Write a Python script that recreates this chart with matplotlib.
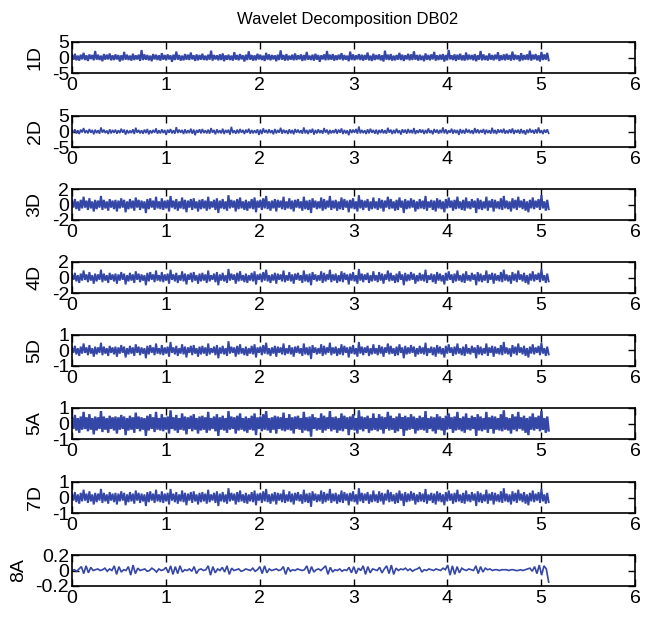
import numpy as np
import matplotlib
matplotlib.use("Agg")
import matplotlib.pyplot as plt

plt.rcParams['font.family'] = ['Liberation Sans', 'DejaVu Sans']
plt.rcParams['axes.unicode_minus'] = False

title = "Wavelet Decomposition DB02"
labels = ["1D", "2D", "3D", "4D", "5D", "5A", "7D", "8A"]
ylims = [(-5, 5), (-5, 5), (-2, 2), (-2, 2), (-1, 1), (-1, 1), (-1, 1), (-0.2, 0.2)]
yticks = [[-5, 0, 5], [-5, 0, 5], [-2, 0, 2], [-2, 0, 2], [-1, 0, 1], [-1, 0, 1], [-1, 0, 1], [-0.2, 0, 0.2]]
xticks = [0, 1, 2, 3, 4, 5, 6]
t_end = 5.08

# 1D, values in tenths
d1 = [8,-7,12,-9,6,-10,9,-6,15,-8,7,-11,10,-5,8,-9,21,-7,9,-8,6,-12,11,-7,9,-6,13,-9,7,-8,
      10,-6,8,-13,7,-9,18,-7,9,-8,6,-10,12,-8,7,-6,9,-11,24,-8,10,-7,8,-9,6,-12,11,-6,9,-8,
      7,-10,14,-7,8,-9,10,-6,7,-14,9,-8,19,-7,8,-10,6,-9,11,-7,9,-8,16,-6,7,-11,10,-9,8,-7,
      12,-8,6,-9,9,-7,22,-10,8,-6,7,-9,10,-8,13,-12,7,-7,9,-8,6,-10,17,-7,8,-9,11,-6,7,-13,
      9,-8,20,-7,8,-10,7,-9,12,-6,9,-8,6,-11,15,-7,10,-9,8,-6,7,-12,9,-8,23,-7,8,-10,11,-9,
      6,-7,9,-9,13,-8,7,-6,10,-11,8,-9,18,-7,6,-8,9,-10,12,-7,8,-14,7,-6,10,-9,21,-8,9,-7,
      11,-10,7,-8,9,-6,14,-9,8,-7,6,-12,19,-8,10,-9,7,-6,11,-8,9,-10,8,-7,16,-9,6,-11,12,-8,
      8,-6,10,-9,7,-13,22,-7,9,-8,11,-10,6,-9,8,-7,15,-8,9,-11,7,-6,12,-9,10,-8,20,-7,8,-10,
      9,-8,6,-12,13,-7,8,-9,10,-6,18,-10,7,-8,9,-7,11,-13,8,-9,24,-6,7,-8,10,-11,9,-7,12,-9,
      7,-10,16,-8,9,-6,8,-9,11,-12,7,-7,21,-9,10,-8,6,-10,13,-7,8,-9,9,-6,17,-11,7,-8,10,-9,
      12,-7,8,-10,19,-8,9,-6,7,-12,14,-9,8,-7,10,-8,22,-10,9,-6,11,-9,7,-13,18,-8,10,-7,15,-9]

# 2D, tenths
d2 = [5,-4,7,-6,4,-8,6,-3,11,-5,4,-6,8,-4,5,-9,6,-5,4,-7,13,-4,6,-5,3,-8,7,-6,5,-4,
      6,-7,4,-5,9,-4,6,-10,5,-6,3,-5,7,-8,12,-4,5,-6,4,-7,6,-5,8,-9,4,-6,5,-4,10,-7,
      4,-6,7,-5,5,-11,6,-4,8,-6,4,-7,14,-5,6,-4,5,-8,7,-6,4,-5,9,-7,6,-12,5,-4,7,-6,
      8,-5,4,-6,6,-7,11,-4,5,-9,7,-5,4,-6,9,-8,5,-4,6,-10,15,-5,4,-7,6,-6,8,-4,5,-8,
      6,-4,9,-7,5,-6,4,-5,7,-11,6,-8,10,-4,5,-6,7,-5,4,-9,8,-6,5,-4,12,-7,6,-5,4,-8,
      7,-6,5,-9,8,-4,6,-5,4,-7,13,-6,5,-8,6,-4,9,-10,5,-6,7,-5,4,-7,11,-4,6,-9,5,-6,
      4,-5,8,-7,6,-4,10,-8,5,-6,4,-12,7,-5,6,-4,8,-7,16,-6,5,-5,4,-8,7,-6,9,-4,5,-7,
      6,-9,5,-5,7,-6,4,-7,12,-4,6,-8,5,-6,9,-5,4,-10,7,-4,6,-7,8,-5,5,-6,11,-8,4,-5,
      7,-4,6,-8,5,-6,10,-5,4,-9,8,-4,6,-7,5,-5,13,-6,7,-8,4,-4,9,-7,6,-5,5,-11,8,-6,
      5,-7,9,-4,6,-6,4,-8,11,-5,7,-6,5,-4,8,-9,6,-5,4,-7,12,-6,5,-8,7,-4,6,-5,9,-7,
      4,-6,7,-5,10,-8,5,-4,6,-7,8,-6,4,-10,6,-5,9,-4,5,-7,7,-6,13,-5,4,-8,6,-4,7,-6]

# 3D, tenths
d3 = [5,-4,7,-6,4,-8,6,-5,10,-4,5,-7,8,-5,4,-9,6,-6,5,-4,11,-7,6,-5,4,-8,7,-4,5,-6,
      6,-9,5,-5,8,-4,6,-10,4,-6,7,-5,5,-8,9,-4,6,-7,5,-5,4,-11,7,-6,8,-4,5,-7,10,-5,
      4,-6,8,-7,5,-5,6,-9,11,-4,5,-6,7,-8,4,-5,9,-6,6,-10,5,-4,7,-7,8,-5,4,-9,6,-6,
      7,-5,5,-8,10,-6,4,-4,6,-7,8,-11,5,-5,7,-6,4,-8,12,-5,6,-4,5,-9,7,-6,9,-5,4,-7,
      6,-8,4,-5,7,-6,9,-10,5,-4,6,-7,8,-5,11,-6,4,-8,5,-5,7,-9,6,-4,5,-6,10,-7,4,-5,
      8,-6,5,-9,6,-4,7,-5,4,-8,10,-6,5,-7,6,-11,8,-4,5,-6,4,-5,9,-8,7,-6,5,-4,11,-7,
      5,-5,6,-8,4,-6,9,-7,7,-4,5,-10,6,-5,8,-6,4,-9,12,-5,6,-7,5,-4,7,-8,4,-6,9,-5,
      4,-7,8,-5,6,-9,5,-4,10,-6,7,-5,4,-8,6,-7,9,-4,5,-11,7,-6,5,-5,8,-4,6,-9,4,-6,
      7,-5,5,-6,11,-8,4,-4,6,-7,5,-9,8,-5,6,-6,4,-10,7,-5,9,-4,5,-8,6,-6,10,-5,4,-7,
      6,-8,9,-5,4,-6,7,-4,5,-11,8,-6,6,-7,4,-5,10,-8,5,-4,7,-9,6,-5,4,-6,8,-7,11,-5,
      5,-6,4,-9,8,-5,6,-7,10,-4,5,-6,7,-8,4,-10,6,-5,9,-6,5,-4,7,-7,12,-5,4,-8,6,-6]

# 4D, tenths
d4 = [4,-3,6,-5,3,-7,5,-4,9,-3,4,-6,7,-4,3,-8,5,-5,4,-3,10,-6,5,-4,3,-7,6,-3,4,-5,
      5,-8,4,-4,7,-3,5,-9,3,-5,6,-4,4,-7,8,-3,5,-6,4,-4,3,-10,6,-5,7,-3,4,-6,9,-4,
      3,-5,7,-6,4,-4,5,-8,10,-3,4,-5,6,-7,3,-4,8,-5,5,-9,4,-3,6,-6,7,-4,3,-8,5,-5,
      6,-4,4,-7,9,-5,3,-3,5,-6,7,-10,4,-4,6,-5,3,-7,11,-4,5,-3,4,-8,6,-5,8,-4,3,-6,
      5,-7,3,-4,6,-5,8,-9,4,-3,5,-6,7,-4,10,-5,3,-7,4,-4,6,-8,5,-3,4,-5,9,-6,3,-4,
      7,-5,4,-8,5,-3,6,-4,3,-7,9,-5,4,-6,5,-10,7,-3,4,-5,3,-4,8,-7,6,-5,4,-3,10,-6,
      4,-4,5,-7,3,-5,8,-6,6,-3,4,-9,5,-4,7,-5,3,-8,11,-4,5,-6,4,-3,6,-7,3,-5,8,-4,
      3,-6,7,-4,5,-8,4,-3,9,-5,6,-4,3,-7,5,-6,8,-3,4,-10,6,-5,4,-4,7,-3,5,-8,3,-5,
      6,-4,4,-5,10,-7,3,-3,5,-6,4,-8,7,-4,5,-5,3,-9,6,-4,8,-3,4,-7,5,-5,9,-4,3,-6,
      5,-7,8,-4,3,-5,6,-3,4,-10,7,-5,5,-6,3,-4,9,-7,4,-3,6,-8,5,-4,3,-5,7,-6,10,-4,
      4,-5,3,-8,7,-4,5,-6,9,-3,4,-5,6,-7,3,-9,5,-4,8,-5,4,-3,6,-6,11,-4,3,-7,5,-5]

# 5D, hundredths
d5 = [20,-15,30,-25,15,-35,25,-20,45,-15,20,-30,35,-20,15,-40,25,-25,20,-15,50,-30,25,-20,15,-35,30,-15,20,-25,
      25,-40,20,-20,35,-15,25,-45,15,-25,30,-20,20,-35,40,-15,25,-30,20,-20,15,-50,30,-25,35,-15,20,-30,45,-20,
      15,-25,35,-30,20,-20,25,-40,55,-15,20,-25,30,-35,15,-20,40,-25,25,-45,20,-15,30,-30,35,-20,15,-40,25,-25,
      30,-20,20,-35,45,-25,15,-15,25,-30,35,-50,20,-20,30,-25,15,-35,60,-20,25,-15,20,-40,30,-25,40,-20,15,-30,
      25,-35,15,-20,30,-25,40,-45,20,-15,25,-30,35,-20,50,-25,15,-35,20,-20,30,-40,25,-15,20,-25,45,-30,15,-20,
      35,-25,20,-40,25,-15,30,-20,15,-35,45,-25,20,-30,25,-55,35,-15,20,-25,15,-20,40,-35,30,-25,20,-15,50,-30,
      20,-20,25,-35,15,-25,40,-30,30,-15,20,-45,25,-20,35,-25,15,-40,55,-20,25,-30,20,-15,30,-35,15,-25,40,-20,
      15,-30,35,-20,25,-40,20,-15,45,-25,30,-20,15,-35,25,-30,40,-15,20,-50,30,-25,20,-20,35,-15,25,-40,15,-25,
      30,-20,20,-25,50,-35,15,-15,25,-30,20,-40,35,-20,25,-25,15,-45,30,-20,40,-15,20,-35,25,-25,45,-20,15,-30,
      25,-35,40,-20,15,-25,30,-15,20,-50,35,-25,25,-30,15,-20,45,-35,20,-15,30,-40,25,-20,15,-25,35,-30,55,-20,
      20,-25,15,-40,35,-20,25,-30,45,-15,20,-25,30,-35,15,-45,25,-20,40,-25,20,-15,30,-30,50,-20,15,-35,25,-25]

# 5A, hundredths
a5 = [40,-35,55,-45,35,-60,45,-40,75,-35,40,-50,60,-40,35,-70,45,-45,40,-35,80,-55,45,-40,35,-60,50,-35,40,-45,
      45,-65,40,-40,55,-35,45,-75,35,-45,50,-40,40,-60,70,-35,45,-50,40,-40,35,-80,50,-45,60,-35,40,-55,75,-40,
      35,-45,60,-50,40,-40,45,-65,85,-35,40,-45,55,-60,35,-40,65,-45,45,-70,40,-35,50,-50,60,-40,35,-65,45,-45,
      50,-40,40,-60,75,-45,35,-35,45,-50,60,-80,40,-40,50,-45,35,-60,80,-40,45,-35,40,-65,50,-45,65,-40,35,-50,
      45,-60,35,-40,50,-45,65,-75,40,-35,45,-50,60,-40,80,-45,35,-60,40,-40,50,-65,45,-35,40,-45,70,-50,35,-40,
      60,-45,40,-65,45,-35,50,-40,35,-60,75,-45,40,-50,45,-85,60,-35,40,-45,35,-40,65,-60,50,-45,40,-35,80,-50,
      40,-40,45,-60,35,-45,65,-50,50,-35,40,-75,45,-40,60,-45,35,-65,85,-40,45,-50,40,-35,50,-60,35,-45,65,-40,
      35,-50,60,-40,45,-65,40,-35,75,-45,50,-40,35,-60,45,-50,65,-35,40,-80,50,-45,40,-40,60,-35,45,-65,35,-45,
      50,-40,40,-45,80,-60,35,-35,45,-50,40,-65,60,-40,45,-45,35,-75,50,-40,65,-35,40,-60,45,-45,75,-40,35,-50,
      45,-60,65,-40,35,-45,50,-35,40,-80,60,-45,45,-50,35,-40,75,-60,40,-35,50,-65,45,-40,35,-45,60,-50,85,-40,
      40,-45,35,-65,60,-40,45,-50,75,-35,40,-45,50,-60,35,-75,45,-40,65,-45,40,-35,50,-50,80,-40,35,-60,45,-45]

# 7D, hundredths
d7 = [25,-20,35,-30,20,-40,30,-25,50,-20,25,-35,40,-25,20,-45,30,-30,25,-20,55,-35,30,-25,20,-40,35,-20,25,-30,
      30,-45,25,-25,40,-20,30,-50,20,-30,35,-25,25,-40,45,-20,30,-35,25,-25,20,-55,35,-30,40,-20,25,-35,50,-25,
      20,-30,40,-35,25,-25,30,-45,55,-20,25,-30,35,-40,20,-25,45,-30,30,-50,25,-20,35,-35,40,-25,20,-45,30,-30,
      35,-25,25,-40,50,-30,20,-20,30,-35,40,-55,25,-25,35,-30,20,-40,60,-25,30,-20,25,-45,35,-30,45,-25,20,-35,
      30,-40,20,-25,35,-30,45,-50,25,-20,30,-35,40,-25,55,-30,20,-40,25,-25,35,-45,30,-20,25,-30,50,-35,20,-25,
      40,-30,25,-45,30,-20,35,-25,20,-40,50,-30,25,-35,30,-60,40,-20,25,-30,20,-25,45,-40,35,-30,25,-20,55,-35,
      25,-25,30,-40,20,-30,45,-35,35,-20,25,-50,30,-25,40,-30,20,-45,60,-25,30,-35,25,-20,35,-40,20,-30,45,-25,
      20,-35,40,-25,30,-45,25,-20,50,-30,35,-25,20,-40,30,-35,45,-20,25,-55,35,-30,25,-25,40,-20,30,-45,20,-30,
      35,-25,25,-30,55,-40,20,-20,30,-35,25,-45,40,-25,30,-30,20,-50,35,-25,45,-20,25,-40,30,-30,50,-25,20,-35,
      30,-40,45,-25,20,-30,35,-20,25,-55,40,-30,30,-35,20,-25,50,-40,25,-20,35,-45,30,-25,20,-30,40,-35,60,-25,
      25,-30,20,-45,40,-25,30,-35,50,-20,25,-30,35,-40,20,-50,30,-25,45,-30,25,-20,35,-35,55,-25,20,-40,30,-30]

# 8A, hundredths
a8 = [0,1,-1,2, 5,-4,6,-3,4,0, 1,2,0,1,3,-1,2,0, 6,-5,5,-2, 1,0, 5,-6,7,-4,3,
      0,1,2,-1,0,3,1,-2,2,0,1, 4,-3,6,-5,5,-4,6,-2, 1,0,2,-1, 5,-4, 1,2,0,1,
      6,-6,5,-3, 2,0,4,-2, 6,-5,3,0, 1,2,-1,0,2,1,0,3,-1,1, 5,-4,6,-3,2,
      0,1,2,0,1, 5,-5,4,-1, 1,0,2,1,0,1, 6,-4,5,-2, 1,2,0,3, 6,-5,4,-2,
      1,0,2,-1,1,0, 4,-3,5,-4,3,0, 6,-5,5,-3,2,1, 0,4,-3,2, 6,-4,7,-5,3,0,
      2,1,3,0,2,-1,1,2, 4,-2,1,0, 2,1,0,2,1,0,3,1, 7,-6,6,-5,5,-3,
      3,1,0,2,1,0, 6,-4,5,-2, 3,1,2,0, 1,1,0,1,1,1,0,1,1,0,0,1,0,1,
      2,3,-1,5,-4,7,-6,6, 2,-15]

series = [d1, d2, d3, d4, d5, a5, d7, a8]
units = [0.1, 0.1, 0.1, 0.1, 0.01, 0.01, 0.01, 0.01]
widths = [1.5, 1.2, 1.5, 1.4, 1.4, 1.7, 1.4, 1.2]

W, H = 649, 617
fig = plt.figure(figsize=(W / 100, H / 100), dpi=100)
tops = [42, 116, 189, 262, 335, 408, 482, 555]
ph = 31
left, right = 72, 635
color = '#3446a6'

for i, (vals, lab, yl, yt, u) in enumerate(zip(series, labels, ylims, yticks, units)):
    ax = fig.add_axes([left / W, 1 - (tops[i] + ph) / H, (right - left) / W, ph / H])
    y = np.asarray(vals, dtype=float) * u
    t = np.linspace(0, t_end, len(y))
    ax.plot(t, y, color=color, lw=widths[i], solid_joinstyle='miter')
    ax.set_xlim(0, 6)
    ax.set_ylim(*yl)
    ax.set_xticks(xticks)
    ax.set_yticks(yt)
    ax.set_yticklabels([("%g" % v) for v in yt])
    ax.tick_params(direction='in', top=True, right=True, length=5, width=1,
                   labelsize=14, pad=3)
    ax.tick_params(axis='y', pad=2)
    for s in ax.spines.values():
        s.set_linewidth(1.2)
    ax.set_ylabel(lab, fontsize=14, labelpad=6)
    if i == 0:
        ax.set_title(title, fontsize=12, pad=13, x=0.49)

fig.savefig("out.png", dpi=100)
